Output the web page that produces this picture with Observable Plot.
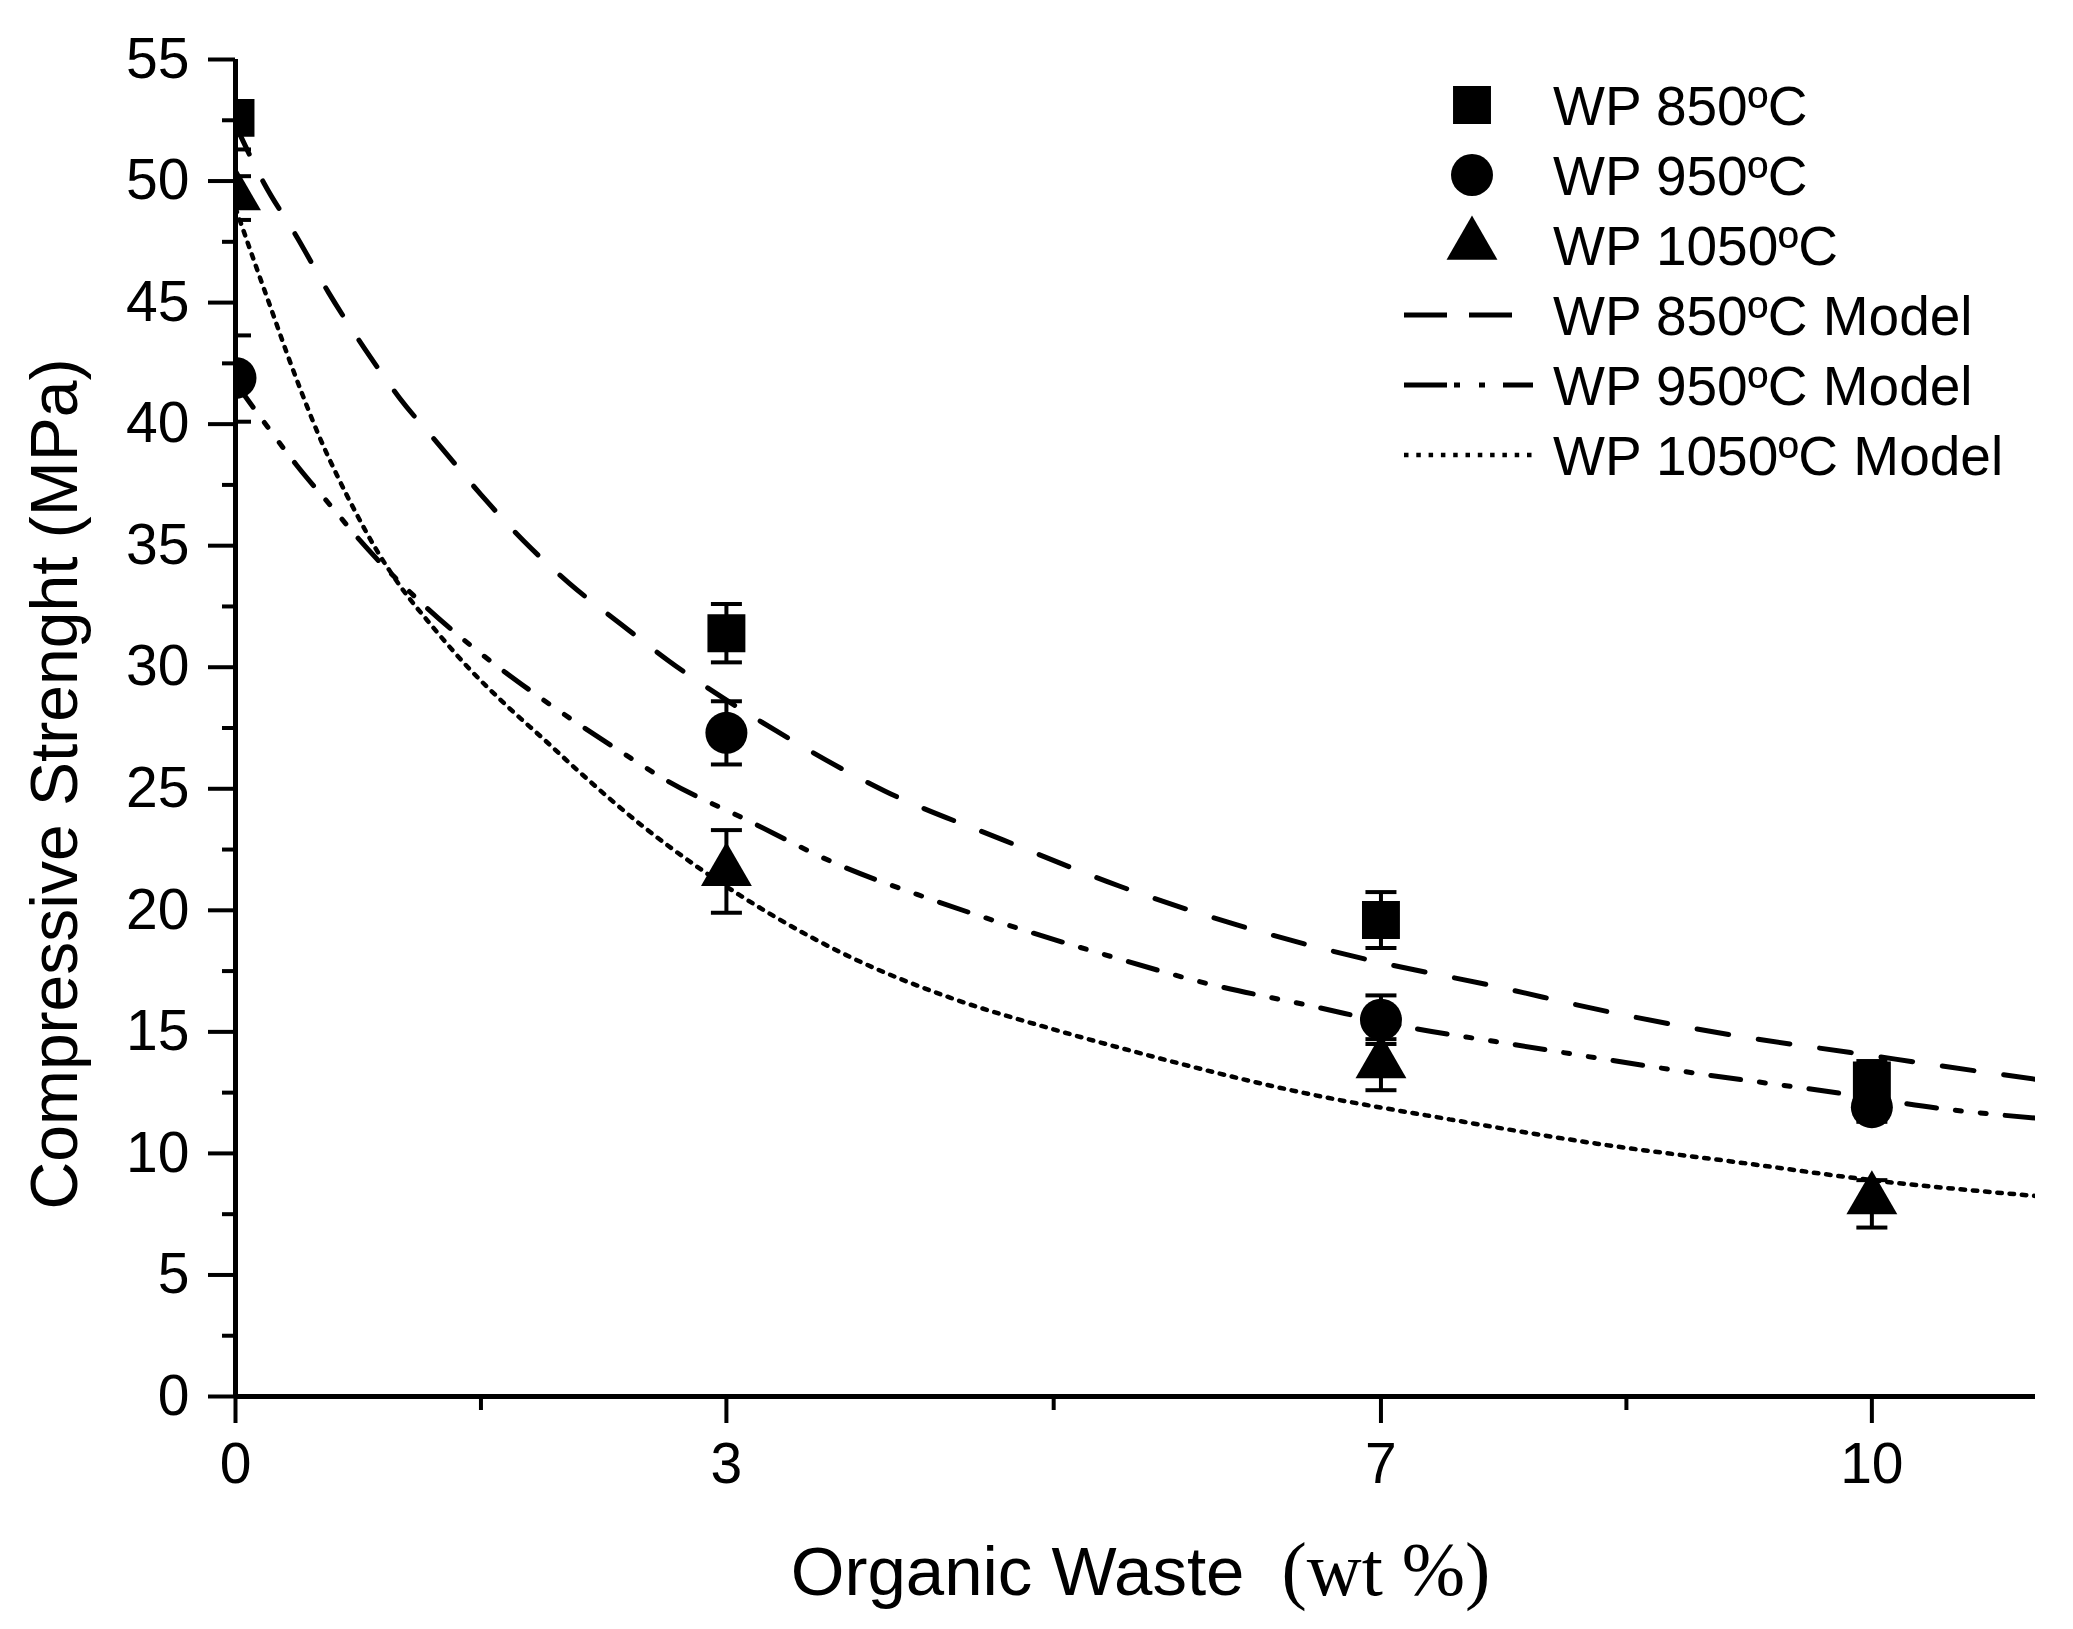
<!DOCTYPE html>
<html>
<head>
<meta charset="utf-8">
<script src="https://cdn.jsdelivr.net/npm/d3@7"></script>
<script src="https://cdn.jsdelivr.net/npm/@observablehq/plot@0.6"></script>
<style>
  body { margin: 0; background: #fff; }
  #chart svg { display: block; }
</style>
</head>
<body>
<div id="chart"></div>
<script>
// measured points (wt % organic waste)
const wt = [0, 3, 7, 10];
const wp850 = [52.6, 31.4, 19.6, 13.0];
const wp850Up = [0.6, 1.2, 1.15, 0.8];
const wp850Down = [1.3, 1.2, 1.15, 0.8];
const wp950 = [41.9, 27.3, 15.5, 11.9];
const wp950Up = [1.75, 1.3, 1.0, 0.6];
const wp950Down = [1.8, 1.3, 1.0, 0.6];
const wp1050 = [49.4, 21.6, 13.7, 8.1];
const wp1050Up = [0.8, 1.7, 1.0, 0.8];
const wp1050Down = [1.0, 1.7, 1.1, 1.15];

// model curves
const model850X = [0, 0.175, 0.375, 0.57, 0.79, 1.0, 1.25, 1.5, 1.76, 2.04, 2.35, 2.65, 3.3, 3.97, 4.69, 5.4, 6.12, 6.9, 7.68, 8.41, 9.16, 9.87, 10.63, 11];
const model850Y = [52.3, 49.9, 47.7, 45.4, 43.1, 41.1, 39.1, 37.1, 35.2, 33.45, 31.8, 30.25, 27.4, 24.9, 22.9, 21.0, 19.4, 18.0, 16.9, 15.8, 14.85, 14.15, 13.4, 13.05];
const model950X = [0, 0.14, 0.375, 0.6, 0.75, 1.16, 1.455, 1.82, 2.11, 2.43, 2.62, 3.13, 3.66, 4.23, 4.81, 5.35, 5.93, 6.55, 7.24, 7.7, 8.86, 9.82, 10.42, 11];
const model950Y = [41.7, 40.4, 38.3, 36.5, 35.3, 32.5, 30.8, 28.95, 27.6, 26.2, 25.4, 23.7, 21.95, 20.5, 19.2, 18.1, 17.0, 16.1, 15.1, 14.6, 13.36, 12.46, 11.85, 11.45];
const model1050X = [0, 0.13, 0.22, 0.315, 0.41, 0.505, 0.62, 0.74, 0.855, 1.0, 1.2, 1.42, 1.66, 1.89, 2.1, 2.5, 2.82, 3.28, 3.75, 4.37, 5.0, 5.43, 6.52, 7.42, 8.32, 9.22, 10.0, 11];
const model1050Y = [48.9, 46.4, 44.7, 42.9, 41.2, 39.6, 37.9, 36.3, 34.9, 33.4, 31.7, 30.0, 28.4, 27.0, 25.7, 23.4, 21.8, 19.8, 18.1, 16.4, 15.1, 14.3, 12.5, 11.4, 10.4, 9.6, 8.9, 8.25];

const yTicks = [0, 5, 10, 15, 20, 25, 30, 35, 40, 45, 50, 55];
const yMinor = [2.5, 7.5, 12.5, 17.5, 22.5, 27.5, 32.5, 37.5, 42.5, 47.5, 52.5];
const xTicks = [0, 3, 7, 10];
const xMinor = [1.5, 5, 8.5];

const points = (name, ys, up, down) =>
  wt.map((x, i) => ({series: name, x, y: ys[i], hi: ys[i] + up[i], lo: ys[i] - down[i]}));
const p850 = points("WP 850ºC", wp850, wp850Up, wp850Down);
const p950 = points("WP 950ºC", wp950, wp950Up, wp950Down);
const p1050 = points("WP 1050ºC", wp1050, wp1050Up, wp1050Down);
const allPoints = [...p850, ...p950, ...p1050];

const curve = (xs, ys) => xs.map((x, i) => ({x, y: ys[i]}));
const m850 = curve(model850X, model850Y);
const m950 = curve(model950X, model950Y);
const m1050 = curve(model1050X, model1050Y);

const dash850 = "32,30";
const dash950 = "30,19,6,19,6,19";
const dash1050 = "4.5,7.8";

// horizontal whisker cap as a symbol
const cap = {
  draw(context, size) {
    const w = Math.sqrt(size / Math.PI);
    context.moveTo(-w, 0);
    context.lineTo(w, 0);
  }
};

const chart = Plot.plot({
  width: 2073,
  height: 1629,
  marginLeft: 235,
  marginTop: 59,
  marginRight: 38,
  marginBottom: 233,
  style: {fontFamily: "'Liberation Sans', Arial, sans-serif", color: "#000", background: "#fff", overflow: "visible"},
  x: {domain: [0, 11]},
  y: {domain: [0, 55]},
  marks: [
    Plot.axisY({ticks: yTicks, tickSize: 27, tickPadding: 19, fontSize: 57, strokeWidth: 4, label: null}),
    Plot.axisY({ticks: yMinor, tickSize: 13, tickFormat: () => "", strokeWidth: 4, label: null}),
    Plot.axisX({ticks: xTicks, tickSize: 27, tickPadding: 19, fontSize: 57, strokeWidth: 4, label: null}),
    Plot.axisX({ticks: xMinor, tickSize: 14, tickFormat: () => "", strokeWidth: 4, label: null}),
    Plot.line(m850, {x: "x", y: "y", curve: "monotone-x", stroke: "#000", strokeWidth: 5, strokeDasharray: dash850, clip: true}),
    Plot.line(m950, {x: "x", y: "y", curve: "monotone-x", stroke: "#000", strokeWidth: 5, strokeDasharray: dash950, clip: true}),
    Plot.line(m1050, {x: "x", y: "y", curve: "monotone-x", stroke: "#000", strokeWidth: 4.5, strokeDasharray: dash1050, clip: true}),
    Plot.ruleX(allPoints, {x: "x", y1: "lo", y2: "hi", stroke: "#000", strokeWidth: 4, clip: true}),
    Plot.dot(allPoints, {x: "x", y: "lo", symbol: cap, r: 15.5, stroke: "#000", fill: "none", strokeWidth: 4, clip: true}),
    Plot.dot(allPoints, {x: "x", y: "hi", symbol: cap, r: 15.5, stroke: "#000", fill: "none", strokeWidth: 4, clip: true}),
    Plot.dot(p850, {x: "x", y: "y", symbol: "square", r: 21.4, fill: "#000", stroke: "none", clip: true}),
    Plot.dot(p950, {x: "x", y: "y", symbol: "circle", r: 21, fill: "#000", stroke: "none", clip: true}),
    Plot.dot(p1050, {x: "x", y: "y", symbol: "triangle", r: 18.9, fill: "#000", stroke: "none", clip: true}),
    Plot.ruleX([0], {stroke: "#000", strokeWidth: 5}),
    Plot.ruleY([0], {stroke: "#000", strokeWidth: 5}),
    Plot.text(["Compressive Strenght (MPa)"], {text: d => d, frameAnchor: "left", textAnchor: "middle", lineAnchor: "middle", rotate: -90, dx: -180, dy: 56, fontSize: 66, fill: "#000"}),
    Plot.text(["Organic Waste"], {text: d => d, frameAnchor: "bottom", textAnchor: "end", lineAnchor: "bottom", dx: 109, dy: 198, fontSize: 69, fill: "#000"}),
    Plot.text(["(wt %)"], {text: d => d, frameAnchor: "bottom", textAnchor: "start", lineAnchor: "bottom", dx: 146, dy: 198, fontSize: 76, fill: "#000", fontFamily: "'Liberation Serif', 'Times New Roman', serif"})
  ]
});

// legend, top right inside the frame
const legendItems = [
  {label: "WP 850ºC", symbol: d3.symbolSquare, r: 21.4},
  {label: "WP 950ºC", symbol: d3.symbolCircle, r: 21},
  {label: "WP 1050ºC", symbol: d3.symbolTriangle, r: 18.9},
  {label: "WP 850ºC Model", dash: "43,22", width: 5},
  {label: "WP 950ºC Model", dash: "43,7,6,19,6,18,30", width: 5},
  {label: "WP 1050ºC Model", dash: "4.5,7.8", width: 4.5}
];
const legend = d3.select(chart).append("g")
  .attr("font-family", "'Liberation Sans', Arial, sans-serif")
  .attr("font-size", 55)
  .attr("text-anchor", "start");
legendItems.forEach((d, i) => {
  const y = 105 + i * 70;
  if (d.symbol) {
    legend.append("path")
      .attr("transform", `translate(1472,${y})`)
      .attr("d", d3.symbol(d.symbol, Math.PI * d.r * d.r)())
      .attr("fill", "#000");
  } else {
    legend.append("line")
      .attr("x1", 1404).attr("x2", 1533).attr("y1", y).attr("y2", y)
      .attr("stroke", "#000").attr("stroke-width", d.width)
      .attr("stroke-dasharray", d.dash);
  }
  legend.append("text")
    .attr("x", 1553).attr("y", y).attr("dy", "0.36em")
    .attr("fill", "#000")
    .text(d.label);
});

d3.select('#chart').append(() => chart);
</script>
</body>
</html>
